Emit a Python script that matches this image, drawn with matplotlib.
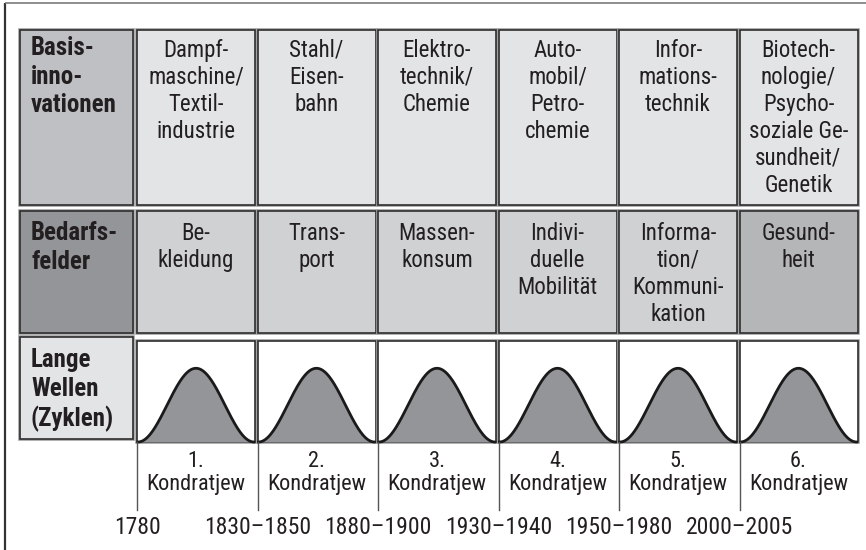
import numpy as np
import matplotlib
matplotlib.use("Agg")
import matplotlib.pyplot as plt
from matplotlib.patches import Rectangle

plt.rcParams['font.family'] = ['Roboto Condensed', 'Liberation Sans Narrow', 'DejaVu Sans Condensed', 'DejaVu Sans']

# --- content ---
row_labels = ["Basis-\ninno-\nvationen", "Bedarfs-\nfelder", "Lange\nWellen\n(Zyklen)"]
innovations = ["Dampf-\nmaschine/\nTextil-\nindustrie", "Stahl/\nEisen-\nbahn",
               "Elektro-\ntechnik/\nChemie", "Auto-\nmobil/\nPetro-\nchemie",
               "Infor-\nmations-\ntechnik",
               "Biotech-\nnologie/\nPsycho-\nsoziale Ge-\nsundheit/\nGenetik"]
needs = ["Be-\nkleidung", "Trans-\nport", "Massen-\nkonsum", "Indivi-\nduelle\nMobilität",
         "Informa-\ntion/\nKommuni-\nkation", "Gesund-\nheit"]
cycles = ["1.\nKondratjew", "2.\nKondratjew", "3.\nKondratjew",
          "4.\nKondratjew", "5.\nKondratjew", "6.\nKondratjew"]
years = ["1780", "1830\u20131850", "1880\u20131900", "1930\u20131940",
         "1950\u20131980", "2000\u20132005"]

# --- layout (pixels) ---
W, H = 866, 550
lab_x0, lab_x1 = 20, 133
col_x0, col_step, col_w = 137, 120.5, 118
row1 = (30, 205)
row2 = (211, 333)
row3_lab = (337, 439)
row3 = (341, 442)
div_bottom = 510
year_y = 527
lab_pad = [6, 10, 11]     # text offset from top of each row label box
cell_pad = [9, 11]        # text offset in row 1 / row 2 cells

c_lab1 = "#bfc0c3"
c_cell1 = "#e3e4e6"
c_lab2 = "#949598"
c_cell2 = "#d0d1d3"
c_cell2_last = "#b5b6b8"
c_lab3 = "#e3e4e6"
c_wave = "#939598"
edge = "#2e2e2e"

fig = plt.figure(figsize=(W / 100, H / 100), dpi=100)
ax = fig.add_axes([0, 0, 1, 1])
ax.set_xlim(0, W)
ax.set_ylim(H, 0)
ax.axis("off")

# outer frame (left and top)
ax.plot([5, 5], [3, H], color="#333333", lw=1.6, solid_capstyle="butt")
ax.plot([5, W], [3, 3], color="#7a7a7a", lw=1.2, solid_capstyle="butt")


def box(x0, y0, x1, y1, fc):
    ax.add_patch(Rectangle((x0, y0), x1 - x0, y1 - y0, fc="none", ec="#a0a0a0", lw=2.6))
    ax.add_patch(Rectangle((x0, y0), x1 - x0, y1 - y0, fc=fc, ec=edge, lw=1.2))


txt = dict(fontsize=16.5, color="#231f20", linespacing=1.22)

# row label column
for (y0, y1), fc, lab, pad in zip([row1, row2, row3_lab], [c_lab1, c_lab2, c_lab3],
                                  row_labels, lab_pad):
    box(lab_x0, y0, lab_x1, y1, fc)
    ax.text(lab_x0 + 11, y0 + pad, lab, ha="left", va="top", fontweight="bold",
            fontsize=18, color="#231f20", linespacing=1.24)

for i in range(6):
    x0 = col_x0 + i * col_step
    x1 = x0 + col_w
    xc = (x0 + x1) / 2
    box(x0, row1[0], x1, row1[1], c_cell1)
    ax.text(xc, row1[0] + cell_pad[0], innovations[i], ha="center", va="top", **txt)
    box(x0, row2[0], x1, row2[1], c_cell2_last if i == 5 else c_cell2)
    ax.text(xc, row2[0] + cell_pad[1], needs[i], ha="center", va="top", **txt)

    # wave panel
    box(x0, row3[0], x1, row3[1], "white")
    t = np.linspace(0, 1, 200)
    xs = x0 + 1 + t * (col_w - 2)
    ys = row3[1] - 0.73 * (row3[1] - row3[0]) * (1 - np.cos(2 * np.pi * t)) / 2
    ax.fill_between(xs, ys, row3[1], color=c_wave, lw=0)
    ax.plot(xs, ys, color="#1a1a1a", lw=2)

    # divider + labels
    ax.plot([x0, x0], [row3[1], div_bottom], color="#555555", lw=1)
    ax.text(xc, 473, cycles[i], ha="center", va="center", fontsize=16, color="#231f20",
            linespacing=1.1)
    ax.text(x0, year_y, years[i], ha="center", va="center", fontsize=17, color="#231f20")

fig.savefig("out.png", dpi=100)
